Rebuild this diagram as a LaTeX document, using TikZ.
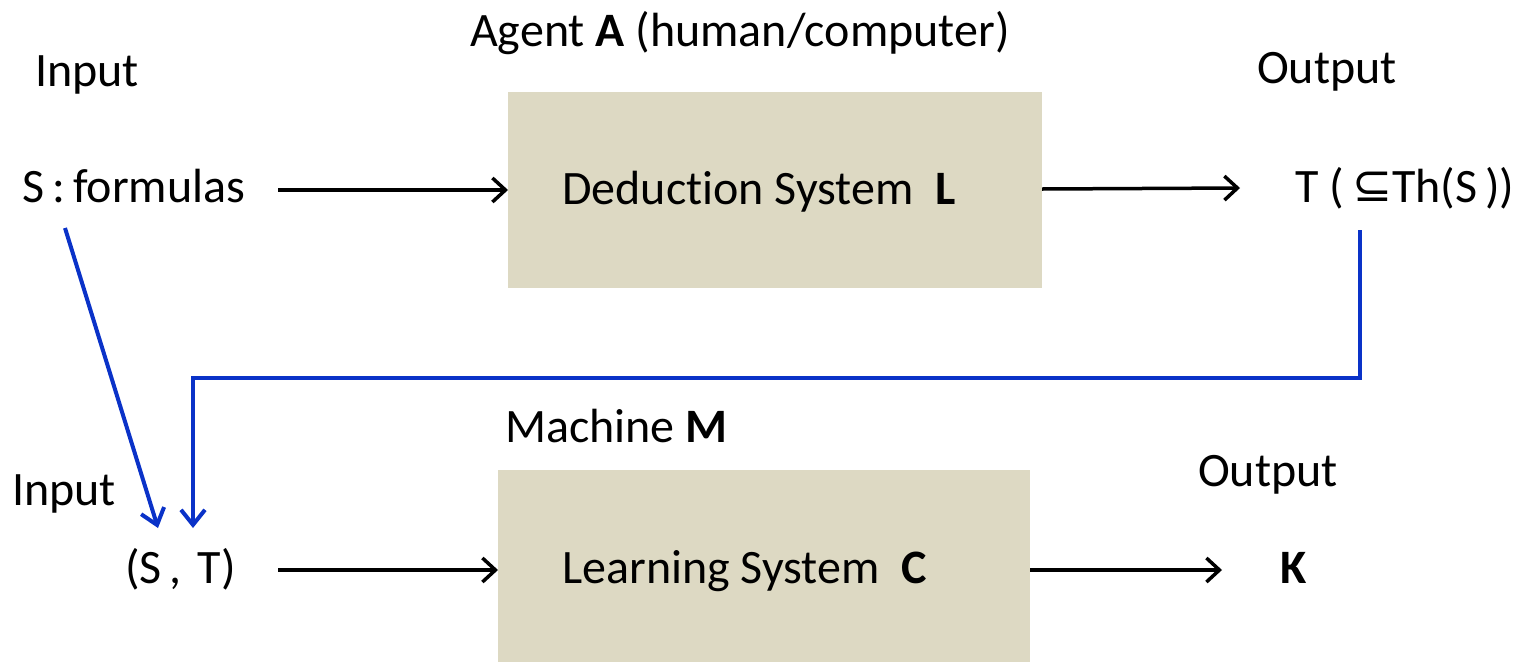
\documentclass[tikz,border=0pt]{standalone}
\usepackage{fontspec}
\setmainfont[Ligatures=NoCommon]{Carlito}
\usetikzlibrary{arrows.meta}
\definecolor{boxfill}{HTML}{DDD9C3}
\definecolor{linkblue}{HTML}{0A32C8}
\tikzset{
  lbl/.style={font=\fontsize{48}{52}\selectfont, inner sep=0pt, anchor=base west},
  sysbox/.style={fill=boxfill, draw=none},
  blk/.style={line width=3.5pt, -{Straight Barb[length=13pt,width=24pt,line width=3.5pt]}},
  blu/.style={line width=4pt, draw=linkblue, -{Straight Barb[length=15pt,width=24pt,line width=4pt]}}
}
\begin{document}
\begin{tikzpicture}[x=1pt,y=-1pt]
\useasboundingbox (0,0) rectangle (1517,662);
% boxes
\node[sysbox, minimum width=534pt, minimum height=196pt, anchor=north west] (L) at (508,92) {};
\node[sysbox, minimum width=532pt, minimum height=192pt, anchor=north west] (C) at (498,470) {};
% labels
\node[lbl] (agent) at (470,46) {Agent \textbf{A} (human/computer)};
\node[lbl] (in1) at (35,86) {Input};
\node[lbl] (out1) at (1257,83) {Output};
\node[lbl] (S) at (22,202) {S\,:\,formulas};
\node[lbl] (ded) at (562,204) {Deduction System\ \ \textbf{L}};
\node[lbl] (T) at (1295,202) {T (\,\raisebox{1pt}{\fontspec{DejaVu Sans}\fontsize{48}{52}\selectfont⊆}Th(S\,))};
\node[lbl] (mach) at (505,442) {Machine \textbf{M}};
\node[lbl] (in2) at (12,505) {Input};
\node[lbl] (ST) at (125,583) {(S\,,\,\,T)};
\node[lbl] (lrn) at (562,583) {Learning System\ \ \textbf{C}};
\node[lbl] (out2) at (1198,486) {Output};
\node[lbl] (K) at (1280,583) {\textbf{K}};
% coordinates
\coordinate (a1s) at (278,190);
\coordinate (a1e) at (508,190);
\coordinate (a2s) at (1042,189);
\coordinate (a2e) at (1240,188);
\coordinate (a3s) at (278,570);
\coordinate (a3e) at (498,570);
\coordinate (a4s) at (1030,570);
\coordinate (a4e) at (1222,570);
\coordinate (b1s) at (1360,230);
\coordinate (b1m1) at (1360,378);
\coordinate (b1m2) at (193,378);
\coordinate (b1e) at (193,528);
\coordinate (b2s) at (65,228);
\coordinate (b2e) at (158,528);
% arrows
\draw[blk] (a1s) -- (a1e);
\draw[blk] (a2s) -- (a2e);
\draw[blk] (a3s) -- (a3e);
\draw[blk] (a4s) -- (a4e);
\draw[blu] (b1s) -- (b1m1) -- (b1m2) -- (b1e);
\draw[blu] (b2s) -- (b2e);
\end{tikzpicture}
\end{document}
